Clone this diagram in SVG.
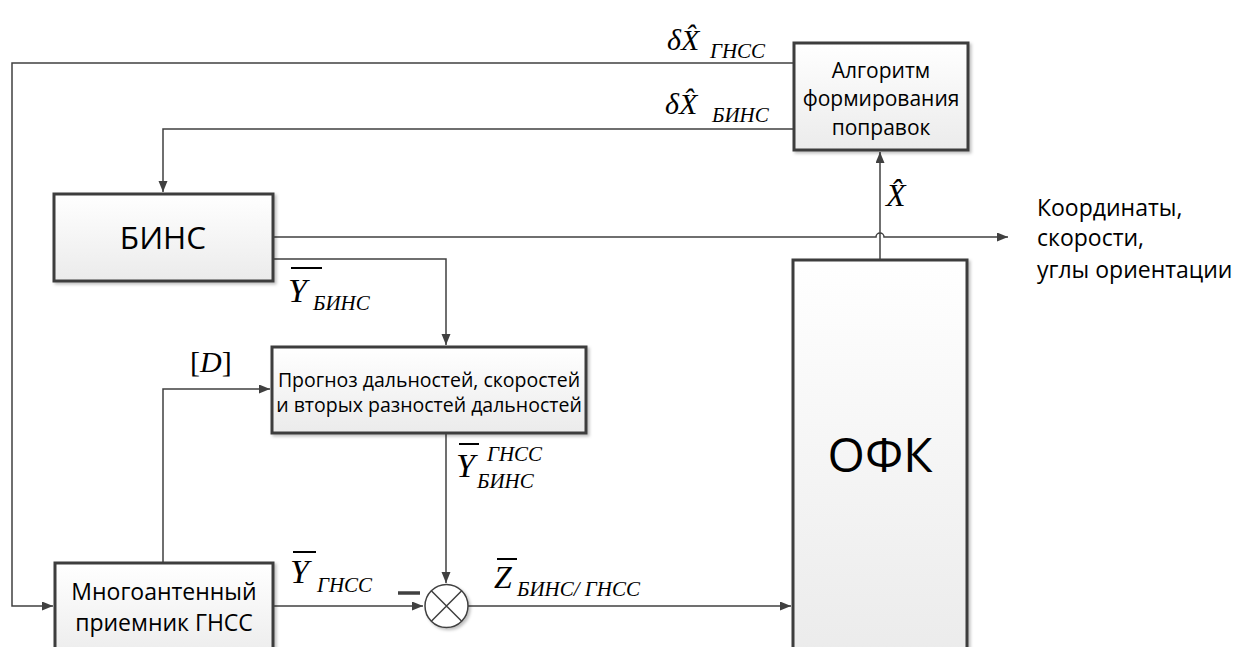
<svg xmlns="http://www.w3.org/2000/svg" width="1240" height="647" viewBox="0 0 1240 647">
<defs>
<linearGradient id="g" x1="0" y1="0" x2="0" y2="1"><stop offset="0" stop-color="#ffffff"/><stop offset="1" stop-color="#ebebeb"/></linearGradient>
<filter id="sh" x="-10%" y="-10%" width="130%" height="130%"><feDropShadow dx="2" dy="2" stdDeviation="1.5" flood-color="#000" flood-opacity="0.25"/></filter>
<marker id="a" markerUnits="userSpaceOnUse" markerWidth="12" markerHeight="10" refX="11" refY="4.5" orient="auto"><path d="M0,0 L11,4.5 L0,9 z" fill="#404040"/></marker>
<style>
.box{fill:url(#g);stroke:#3c3c3c;stroke-width:3;filter:url(#sh)}
.ln{fill:none;stroke:#404040;stroke-width:1.5}
.t{font-family:"Open Sans","Noto Sans",sans-serif;fill:#000;text-anchor:middle}
.s{font-family:"Open Sans","Noto Sans",sans-serif;fill:#000;text-anchor:start}
.m{font-family:"Liberation Serif","DejaVu Serif",serif;font-style:italic;font-weight:normal;fill:#000}
.ob{stroke:#000;stroke-width:2}
</style>
</defs>
<g id="connectors">
<path class="ln" d="M794,63 H12 V606 H53" marker-end="url(#a)"/>
<path class="ln" d="M794,129 H163 V192" marker-end="url(#a)"/>
<path class="ln" d="M273,237 H876 a4,4 0 0 1 8,0 H1008" marker-end="url(#a)"/>
<path class="ln" d="M273,259 H446 V345" marker-end="url(#a)"/>
<path class="ln" d="M163,563 V389 H270" marker-end="url(#a)"/>
<path class="ln" d="M446,433 V583" marker-end="url(#a)"/>
<path class="ln" d="M273,606 H423" marker-end="url(#a)"/>
<path class="ln" d="M468,606 H791" marker-end="url(#a)"/>
<path class="ln" d="M880,260 V152" marker-end="url(#a)"/>
</g>
<g id="alg">
<rect class="box" x="794" y="43" width="174" height="107"/>
<text class="t" x="881" y="78" font-size="21">Алгоритм</text>
<text class="t" x="881" y="106" font-size="21">формирования</text>
<text class="t" x="881" y="135" font-size="21">поправок</text>
</g>
<g id="bins">
<rect class="box" x="54" y="194" width="219" height="87"/>
<text class="t" x="163" y="249" font-size="31.5">БИНС</text>
</g>
<g id="prognoz">
<rect class="box" x="272" y="347" width="314" height="86"/>
<text class="t" x="429" y="387" font-size="19.5">Прогноз дальностей, скоростей</text>
<text class="t" x="429" y="412" font-size="19.5">и вторых разностей дальностей</text>
</g>
<g id="receiver">
<rect class="box" x="55" y="563" width="218" height="100"/>
<text class="t" x="164" y="600" font-size="23">Многоантенный</text>
<text class="t" x="164" y="631" font-size="23">приемник ГНСС</text>
</g>
<g id="ofk">
<rect class="box" x="793" y="260" width="174" height="400"/>
<text class="t" x="880" y="472" font-size="48">ОФК</text>
</g>
<g id="mult">
<circle cx="446.5" cy="606" r="21.5" fill="#fff" stroke="#404040" stroke-width="1.5" filter="url(#sh)"/>
<path class="ln" d="M431.3,590.8 L461.7,621.2 M461.7,590.8 L431.3,621.2"/>
<line x1="398" y1="593" x2="420" y2="593" stroke="#404040" stroke-width="3.5"/>
</g>
<g id="output">
<text class="s" x="1037" y="216" font-size="23">Координаты,</text>
<text class="s" x="1037" y="246" font-size="23">скорости,</text>
<text class="s" x="1037" y="278" font-size="23">углы ориентации</text>
</g>
<g id="labels">
<text class="m" x="667" y="50" font-size="30">δX̂</text>
<text class="m" x="710" y="58" font-size="21">ГНСС</text>
<text class="m" x="665" y="114" font-size="30">δX̂</text>
<text class="m" x="712" y="122" font-size="21">БИНС</text>
<text class="m" x="886" y="206" font-size="32">X̂</text>
<text class="m" x="288" y="302" font-size="34">Y</text>
<line class="ob" x1="291" y1="268" x2="322" y2="268"/>
<text class="m" x="313" y="310" font-size="21">БИНС</text>
<text x="190" y="372" font-size="30" font-family="Liberation Serif" fill="#000">[<tspan font-style="italic">D</tspan>]</text>
<text class="m" x="456" y="477" font-size="34">Y</text>
<line class="ob" x1="459" y1="444" x2="479" y2="444"/>
<text class="m" x="487" y="461" font-size="21">ГНСС</text>
<text class="m" x="477" y="488" font-size="21">БИНС</text>
<text class="m" x="290" y="583" font-size="34">Y</text>
<line class="ob" x1="293" y1="552" x2="316" y2="552"/>
<text class="m" x="317" y="592" font-size="21">ГНСС</text>
<text class="m" x="494" y="588" font-size="32">Z</text>
<line class="ob" x1="497" y1="559" x2="517" y2="559"/>
<text class="m" x="517" y="596" font-size="21">БИНС/ ГНСС</text>
</g>
</svg>
